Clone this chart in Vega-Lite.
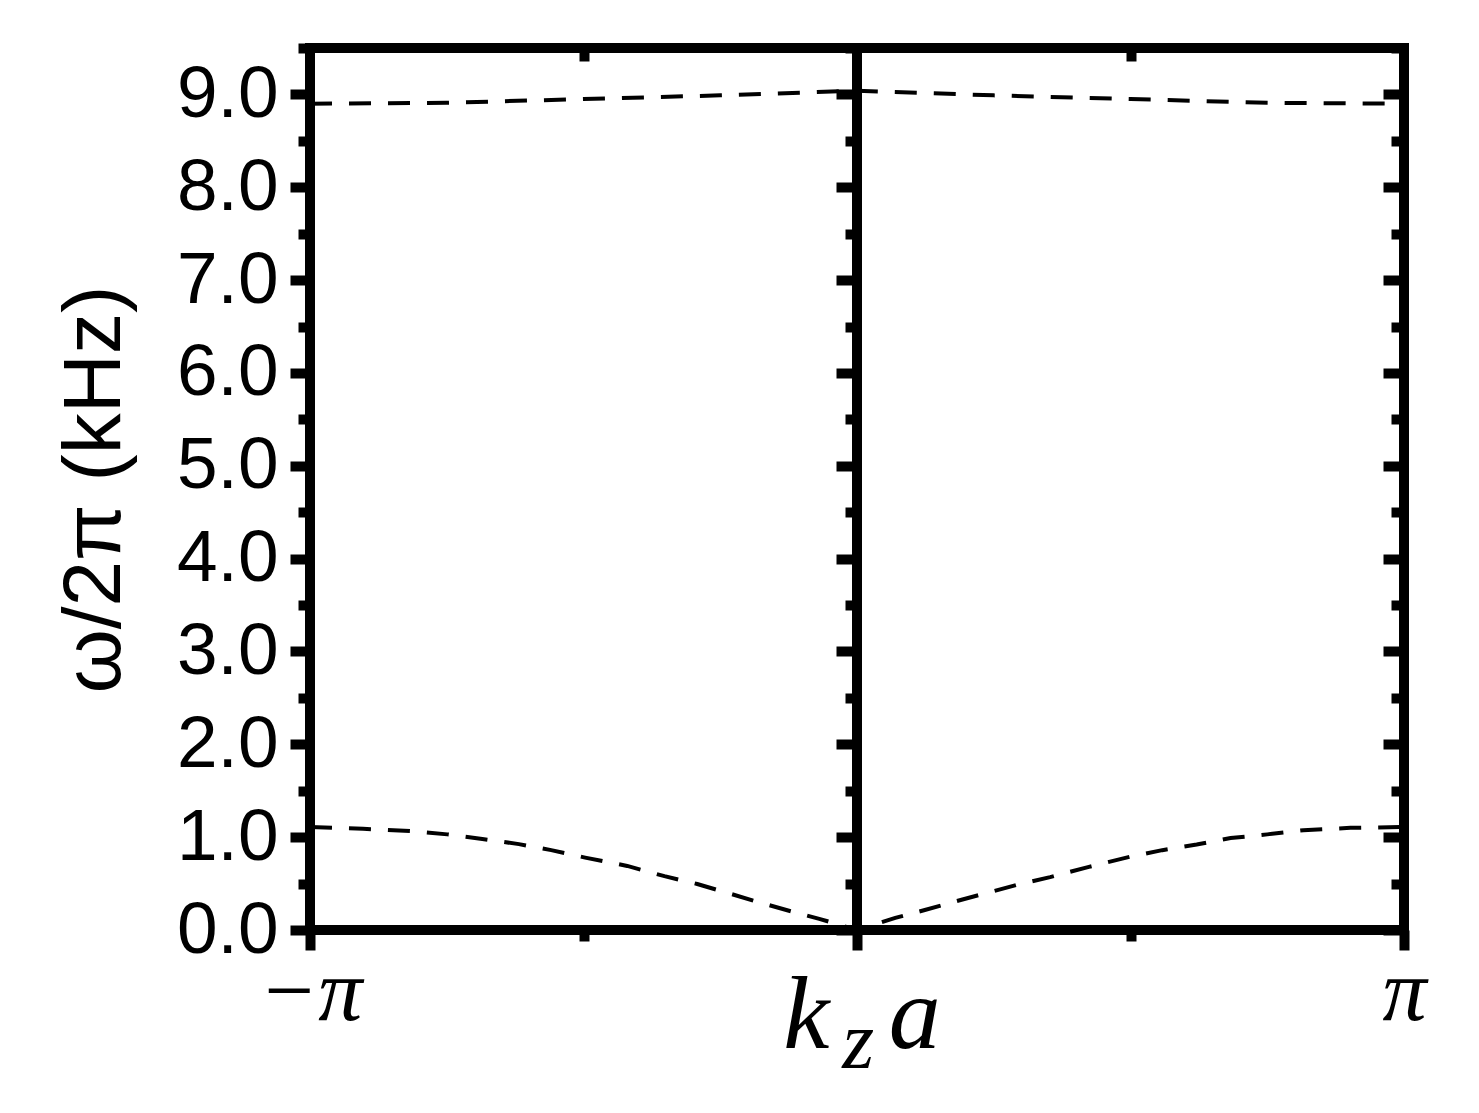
{
  "$schema": "https://vega.github.io/schema/vega-lite/v6.json",
  "width": 1094,
  "height": 882,
  "autosize": {"type": "none"},
  "padding": {"left": 310, "top": 48, "right": 75, "bottom": 183},
  "background": "white",
  "config": {
    "view": {"stroke": "black", "strokeWidth": 10},
    "axis": {"grid": false, "domain": false, "tickColor": "black", "tickWidth": 10, "labels": false, "title": null, "labelFlush": false, "labelOverlap": false}
  },
  "datasets": {
    "upper": [
      {"k": -1, "w": 8.90}, {"k": -0.75, "w": 8.91}, {"k": -0.5, "w": 8.95}, {"k": -0.25, "w": 8.99},
      {"k": 0, "w": 9.04}, {"k": 0.25, "w": 8.99}, {"k": 0.5, "w": 8.95}, {"k": 0.75, "w": 8.91}, {"k": 1, "w": 8.90}
    ],
    "lower": [
      {"k": -1, "w": 1.11}, {"k": -0.903, "w": 1.09}, {"k": -0.815, "w": 1.065}, {"k": -0.749, "w": 1.03},
      {"k": -0.685, "w": 0.98}, {"k": -0.618, "w": 0.925}, {"k": -0.559, "w": 0.86}, {"k": -0.497, "w": 0.78},
      {"k": -0.42, "w": 0.69}, {"k": -0.352, "w": 0.58}, {"k": -0.292, "w": 0.495}, {"k": -0.237, "w": 0.40},
      {"k": -0.18, "w": 0.30}, {"k": -0.126, "w": 0.21}, {"k": -0.069, "w": 0.12}, {"k": 0, "w": 0.0},
      {"k": 0.07, "w": 0.13}, {"k": 0.124, "w": 0.215}, {"k": 0.181, "w": 0.31}, {"k": 0.238, "w": 0.40},
      {"k": 0.295, "w": 0.49}, {"k": 0.353, "w": 0.57}, {"k": 0.424, "w": 0.68}, {"k": 0.5, "w": 0.79},
      {"k": 0.558, "w": 0.86}, {"k": 0.621, "w": 0.92}, {"k": 0.683, "w": 0.99}, {"k": 0.75, "w": 1.03},
      {"k": 0.816, "w": 1.075}, {"k": 0.902, "w": 1.10}, {"k": 1, "w": 1.11}
    ],
    "one": [{"item": "mark"}]
  },
  "resolve": {"scale": {"x": "independent", "y": "independent"}, "axis": {"x": "independent", "y": "independent"}},
  "layer": [
    {
      "data": {"name": "upper"},
      "mark": {"type": "line", "color": "black", "strokeWidth": 4, "strokeDash": [22, 17]},
      "encoding": {
        "x": {"field": "k", "type": "quantitative", "scale": {"domain": [-1, 1], "nice": false, "zero": false},
          "axis": {"orient": "bottom", "values": [-1, 0, 1], "tickSize": 20, "labels": true,
            "labelExpr": "datum.value === -1 ? '−π' : datum.value === 1 ? 'π' : ''",
            "labelFont": "Liberation Serif", "labelFontStyle": "italic", "labelFontSize": 88, "labelColor": "black",
            "labelBaseline": "alphabetic", "labelPadding": 69, "labelAlign": "center", "title": null}},
        "y": {"field": "w", "type": "quantitative", "scale": {"domain": [0, 9.5], "nice": false, "zero": false},
          "axis": {"orient": "left", "values": [0, 1, 2, 3, 4, 5, 6, 7, 8, 9], "tickSize": 20, "labels": true,
            "format": ".1f", "labelFont": "Liberation Sans", "labelFontSize": 73, "labelColor": "black", "labelPadding": 12,
            "title": "ω/2π (kHz)", "titleFont": "Liberation Sans", "titleFontSize": 82, "titleFontWeight": "normal",
            "titleColor": "black", "titlePadding": 40}}
      }
    },
    {
      "data": {"name": "lower"},
      "mark": {"type": "line", "color": "black", "strokeWidth": 4, "strokeDash": [22, 17]},
      "encoding": {
        "x": {"field": "k", "type": "quantitative", "scale": {"domain": [-1, 1], "nice": false, "zero": false},
          "axis": {"orient": "bottom", "values": [-0.5, 0.5], "tickSize": 11}},
        "y": {"field": "w", "type": "quantitative", "scale": {"domain": [0, 9.5], "nice": false, "zero": false},
          "axis": {"orient": "left", "values": [0.5, 1.5, 2.5, 3.5, 4.5, 5.5, 6.5, 7.5, 8.5, 9.5], "tickSize": 12}}
      }
    },
    {
      "data": {"name": "one"},
      "mark": {"type": "rule", "color": "black", "strokeWidth": 10},
      "encoding": {
        "x": {"datum": 0, "type": "quantitative", "scale": {"domain": [-1, 1], "nice": false, "zero": false},
          "axis": {"orient": "bottom", "offset": -882, "values": [-0.5, 0.5], "tickSize": 13}},
        "y": {"datum": 0, "type": "quantitative", "scale": {"domain": [0, 9.5], "nice": false, "zero": false},
          "axis": {"orient": "left", "offset": -547, "values": [0, 1, 2, 3, 4, 5, 6, 7, 8, 9], "tickSize": 21}},
        "y2": {"datum": 9.5}
      }
    },
    {
      "data": {"name": "one"},
      "mark": {"type": "text", "text": "k", "font": "Liberation Serif", "fontStyle": "italic", "fontSize": 104, "color": "black", "align": "left", "baseline": "alphabetic"},
      "encoding": {
        "x": {"datum": -0.135, "type": "quantitative", "scale": {"domain": [-1, 1], "nice": false, "zero": false}, "axis": null},
        "y": {"datum": -1.269, "type": "quantitative", "scale": {"domain": [0, 9.5], "nice": false, "zero": false},
          "axis": {"orient": "left", "offset": -547, "values": [0.5, 1.5, 2.5, 3.5, 4.5, 5.5, 6.5, 7.5, 8.5, 9.5], "tickSize": 12}}
      }
    },
    {
      "data": {"name": "one"},
      "mark": {"type": "text", "text": "z", "font": "Liberation Serif", "fontStyle": "italic", "fontSize": 82, "color": "black", "align": "left", "baseline": "alphabetic"},
      "encoding": {
        "x": {"datum": -0.027, "type": "quantitative", "scale": {"domain": [-1, 1], "nice": false, "zero": false}, "axis": null},
        "y": {"datum": -1.484, "type": "quantitative", "scale": {"domain": [0, 9.5], "nice": false, "zero": false},
          "axis": {"orient": "left", "offset": -1094, "values": [0, 1, 2, 3, 4, 5, 6, 7, 8, 9], "tickSize": 21}}
      }
    },
    {
      "data": {"name": "one"},
      "mark": {"type": "text", "text": "a", "font": "Liberation Serif", "fontStyle": "italic", "fontSize": 104, "color": "black", "align": "left", "baseline": "alphabetic"},
      "encoding": {
        "x": {"datum": 0.058, "type": "quantitative", "scale": {"domain": [-1, 1], "nice": false, "zero": false}, "axis": null},
        "y": {"datum": -1.269, "type": "quantitative", "scale": {"domain": [0, 9.5], "nice": false, "zero": false},
          "axis": {"orient": "left", "offset": -1094, "values": [0.5, 1.5, 2.5, 3.5, 4.5, 5.5, 6.5, 7.5, 8.5, 9.5], "tickSize": 13}}
      }
    }
  ]
}
